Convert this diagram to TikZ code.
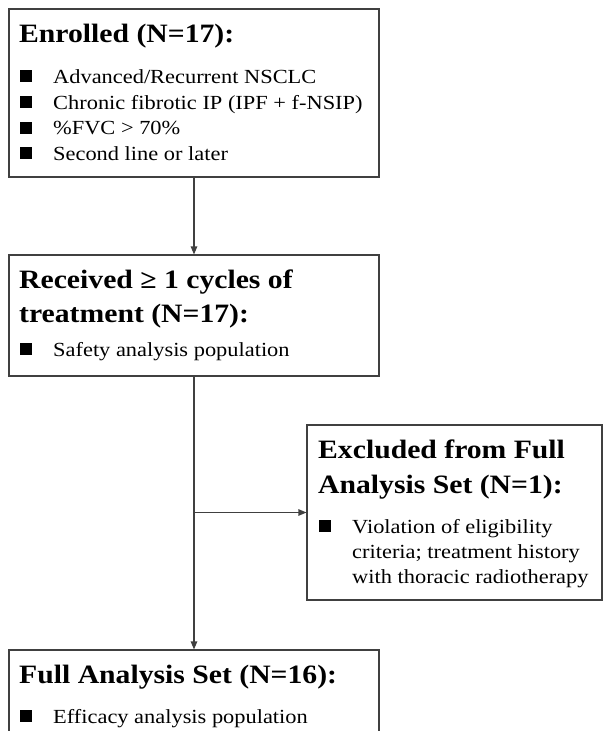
\documentclass[tikz,border=0pt]{standalone}
\usepackage{fontspec}
\setmainfont[FakeStretch=1.12]{Liberation Serif}
\usetikzlibrary{arrows.meta,positioning}
\tikzset{
    frame/.style={rectangle,draw=black!75,line width=1.1pt,inner sep=0pt},
    heading/.style={anchor=base west,inner sep=0pt,
        font=\fontsize{26.5}{34}\selectfont\bfseries},
    item/.style={anchor=base west,inner sep=0pt,
        font=\fontsize{20}{25.5}\selectfont},
    pre/.style={-{Triangle[length=8pt,width=6.5pt]},draw=black!75,line width=1.1pt}
}
\newcommand{\sqitem}{\makebox[33pt][l]{\raisebox{1pt}{\rule{12pt}{12pt}}}}

\begin{document}
\begin{tikzpicture}[x=1pt,y=-1pt]
    \useasboundingbox (0,0) rectangle (604,731);
    \clip (0,0) rectangle (604,731);
    % boxes
    \node[frame,minimum width=370pt,minimum height=168pt] (enrolled) at (194,93) {};
    \node[frame,minimum width=370pt,minimum height=121pt] (treated) at (194,315.5) {};
    \node[frame,minimum width=295pt,minimum height=175pt] (excluded) at (454.5,512.5) {};
    \node[frame,minimum width=370pt,minimum height=110pt] (fas) at (194,705) {};
    % enrolled
    \node[heading] (enrolledhead) at (19,42) {Enrolled (N=17):};
    \node[item] (enrolleda) at (20,83) {\sqitem Advanced/Recurrent NSCLC};
    \node[item] (enrolledb) at (20,109) {\sqitem Chronic fibrotic IP (IPF + f-NSIP)};
    \node[item] (enrolledc) at (20,134.5) {\sqitem \%FVC > 70\%};
    \node[item] (enrolledd) at (20,160) {\sqitem Second line or later};
    % treated
    \node[heading] (treatedhead) at (19,288) {Received ≥ 1 cycles of};
    \node[heading] (treatedheadb) at (19,322) {treatment (N=17):};
    \node[item] (treateda) at (20,356) {\sqitem Safety analysis population};
    % excluded
    \node[heading] (excludedhead) at (318,458) {Excluded from Full};
    \node[heading] (excludedheadb) at (318,493) {Analysis Set (N=1):};
    \node[item] (excludeda) at (319,533) {\sqitem Violation of eligibility};
    \node[item] (excludedb) at (352,558) {criteria; treatment history};
    \node[item] (excludedc) at (352,583) {with thoracic radiotherapy};
    % full analysis set
    \node[heading] (fashead) at (19,683) {Full Analysis Set (N=16):};
    \node[item] (fasa) at (20,723) {\sqitem Efficacy analysis population};
    % connectors
    \coordinate (split) at (treated.south |- excluded.west);
    \draw[pre] (enrolled.south) -- (treated.north);
    \draw[pre] (treated.south) -- (fas.north);
    \draw[pre] (split) -- (excluded.west);
\end{tikzpicture}
\end{document}
